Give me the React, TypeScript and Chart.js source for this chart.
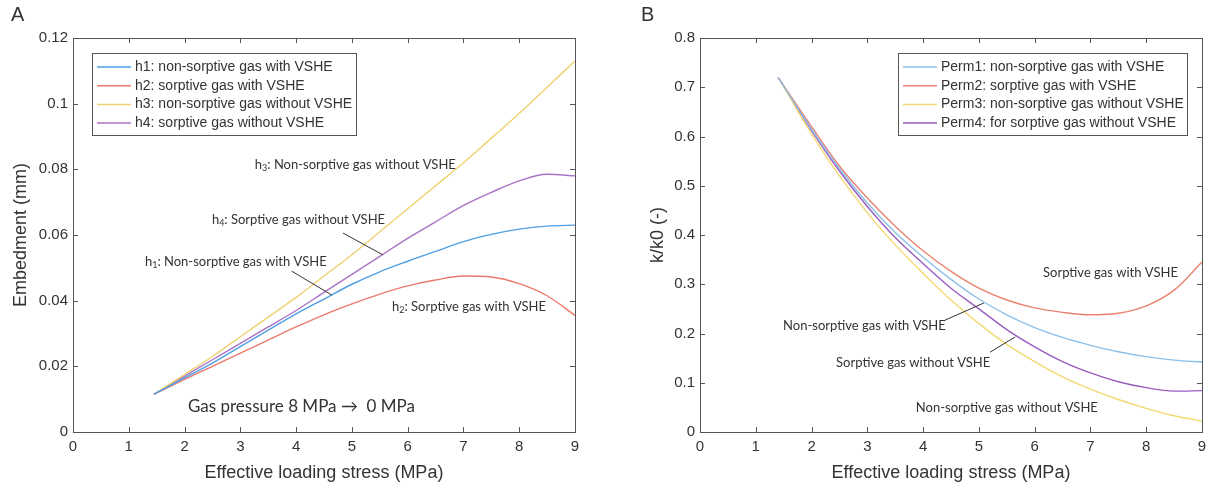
import React, { useEffect, useRef } from "react";
import { Chart, registerables } from "chart.js";

Chart.register(...registerables);

// ---------- Data ----------
const xA = [1.45, 2, 2.5, 3, 3.5, 4, 4.5, 5, 5.5, 6, 6.5, 7, 7.5, 8, 8.5, 9];
const h1 = [0.0115, 0.0165, 0.021, 0.026, 0.031, 0.036, 0.0405, 0.045, 0.0488, 0.052, 0.055, 0.058, 0.0602, 0.0618, 0.0627, 0.063];
const h2 = [0.0115, 0.016, 0.02, 0.024, 0.028, 0.032, 0.0357, 0.039, 0.042, 0.0445, 0.0463, 0.0475, 0.0472, 0.0452, 0.0415, 0.0355];
const h3 = [0.0115, 0.0175, 0.023, 0.029, 0.035, 0.041, 0.0475, 0.054, 0.061, 0.068, 0.075, 0.082, 0.0895, 0.097, 0.105, 0.113];
const h4 = [0.0115, 0.017, 0.022, 0.027, 0.032, 0.037, 0.0425, 0.048, 0.0535, 0.059, 0.064, 0.069, 0.073, 0.0765, 0.0785, 0.078];

const xB = [1.4, 2, 2.5, 3, 3.5, 4, 4.5, 5, 5.5, 6, 6.5, 7, 7.5, 8, 8.5, 9];
const perm1 = [0.72, 0.615, 0.535, 0.465, 0.405, 0.355, 0.31, 0.27, 0.238, 0.212, 0.192, 0.176, 0.163, 0.153, 0.146, 0.142];
const perm2 = [0.72, 0.62, 0.54, 0.475, 0.418, 0.368, 0.326, 0.292, 0.268, 0.252, 0.243, 0.238, 0.241, 0.256, 0.288, 0.345];
const perm3 = [0.72, 0.605, 0.52, 0.445, 0.38, 0.322, 0.268, 0.22, 0.178, 0.143, 0.112, 0.087, 0.066, 0.048, 0.033, 0.022];
const perm4 = [0.72, 0.612, 0.53, 0.458, 0.395, 0.342, 0.292, 0.25, 0.208, 0.173, 0.143, 0.12, 0.102, 0.09, 0.083, 0.084];

const labelsA = [
  "h1: non-sorptive gas with VSHE",
  "h2: sorptive gas with VSHE",
  "h3: non-sorptive gas without VSHE",
  "h4: sorptive gas without VSHE",
];
const labelsB = [
  "Perm1: non-sorptive gas with VSHE",
  "Perm2: sorptive gas with VSHE",
  "Perm3: non-sorptive gas without VSHE",
  "Perm4: for sorptive gas without VSHE",
];
const colorsA = ["#4f9fe3", "#ea7a6c", "#efd070", "#aa72c6"];
const colorsB = ["#8cc0ea", "#e8836f", "#f3d970", "#9a5cc0"];

const xTicks = [0, 1, 2, 3, 4, 5, 6, 7, 8, 9];
const yTicksA = [0, 0.02, 0.04, 0.06, 0.08, 0.1, 0.12];
const yTicksB = [0, 0.1, 0.2, 0.3, 0.4, 0.5, 0.6, 0.7, 0.8];

type Note = { x: number; y: number; main: string; sub?: string; rest?: string; size?: number };
type Leader = { x1: number; y1: number; x2: number; y2: number };

const notesA: Note[] = [
  { x: 3.26, y: 0.0813, main: "h", sub: "3", rest: ": Non-sorptive gas without VSHE" },
  { x: 2.49, y: 0.0646, main: "h", sub: "4", rest: ": Sorptive gas without VSHE" },
  { x: 1.29, y: 0.0518, main: "h", sub: "1", rest: ": Non-sorptive gas with VSHE" },
  { x: 5.72, y: 0.038, main: "h", sub: "2", rest: ": Sorptive gas with VSHE" },
  { x: 2.06, y: 0.0079, main: "Gas pressure 8 MPa \u2192  0 MPa", size: 17 },
];
const leadersA: Leader[] = [
  { x1: 4.84, y1: 0.0606, x2: 5.56, y2: 0.0539 },
  { x1: 3.92, y1: 0.049, x2: 4.64, y2: 0.0417 },
];
const notesB: Note[] = [
  { x: 6.15, y: 0.323, main: "Sorptive gas with VSHE" },
  { x: 1.49, y: 0.215, main: "Non-sorptive gas with VSHE" },
  { x: 2.44, y: 0.14, main: "Sorptive gas without VSHE" },
  { x: 3.87, y: 0.049, main: "Non-sorptive gas without VSHE" },
];
const leadersB: Leader[] = [
  { x1: 4.39, y1: 0.227, x2: 5.09, y2: 0.262 },
  { x1: 5.2, y1: 0.162, x2: 5.65, y2: 0.193 },
];

const SANS = "'Liberation Sans', Arial, sans-serif";
const NOTE_FONT = "Lato, 'Open Sans', sans-serif";

function makePlugin(labels: string[], colors: string[], legendBox: { dx: number; dy: number; w: number; h: number }, notes: Note[], leaders: Leader[], yTicks: number[]) {
  return {
    id: "decor",
    afterDraw(chart: any) {
      const { ctx, chartArea: a, scales } = chart;
      const xs = scales.x;
      const ys = scales.y;
      ctx.save();
      ctx.strokeStyle = "#555";
      ctx.lineWidth = 1;
      ctx.strokeRect(a.left + 0.5, a.top + 0.5, a.right - a.left, a.bottom - a.top);
      ctx.beginPath();
      xTicks.forEach((v) => {
        const px = Math.round(xs.getPixelForValue(v)) + 0.5;
        ctx.moveTo(px, a.bottom);
        ctx.lineTo(px, a.bottom - 5);
        ctx.moveTo(px, a.top);
        ctx.lineTo(px, a.top + 5);
      });
      yTicks.forEach((v) => {
        const py = Math.round(ys.getPixelForValue(v)) + 0.5;
        ctx.moveTo(a.left, py);
        ctx.lineTo(a.left + 5, py);
        ctx.moveTo(a.right, py);
        ctx.lineTo(a.right - 5, py);
      });
      ctx.stroke();

      ctx.strokeStyle = "#333";
      ctx.beginPath();
      leaders.forEach((l) => {
        ctx.moveTo(xs.getPixelForValue(l.x1), ys.getPixelForValue(l.y1));
        ctx.lineTo(xs.getPixelForValue(l.x2), ys.getPixelForValue(l.y2));
      });
      ctx.stroke();

      ctx.fillStyle = "#333";
      ctx.textBaseline = "middle";
      ctx.textAlign = "left";
      notes.forEach((n) => {
        const size = n.size || 13;
        let px = xs.getPixelForValue(n.x);
        const py = ys.getPixelForValue(n.y);
        ctx.font = `${size}px ${NOTE_FONT}`;
        ctx.fillText(n.main, px, py);
        px += ctx.measureText(n.main).width;
        if (n.sub) {
          ctx.font = `${Math.round(size * 0.7)}px ${NOTE_FONT}`;
          ctx.fillText(n.sub, px, py + 3);
          px += ctx.measureText(n.sub).width;
        }
        if (n.rest) {
          ctx.font = `${size}px ${NOTE_FONT}`;
          ctx.fillText(n.rest, px, py);
        }
      });

      const lx = a.left + legendBox.dx;
      const ly = a.top + legendBox.dy;
      ctx.fillStyle = "#fff";
      ctx.fillRect(lx, ly, legendBox.w, legendBox.h);
      ctx.strokeStyle = "#555";
      ctx.lineWidth = 1;
      ctx.strokeRect(lx + 0.5, ly + 0.5, legendBox.w, legendBox.h);
      ctx.font = `14px ${SANS}`;
      labels.forEach((lab, i) => {
        const yy = ly + 14 + i * 18.7;
        ctx.strokeStyle = colors[i];
        ctx.lineWidth = 1.5;
        ctx.beginPath();
        ctx.moveTo(lx + 5, yy);
        ctx.lineTo(lx + 39, yy);
        ctx.stroke();
        ctx.fillStyle = "#333";
        ctx.fillText(lab, lx + 43, yy);
      });
      ctx.restore();
    },
  };
}

function buildConfig(opts: {
  xs: number[];
  series: number[][];
  labels: string[];
  colors: string[];
  yMax: number;
  yTicks: number[];
  yTitle: string;
  yTitlePad: number;
  yWidth: number;
  padRight: number;
  legendBox: { dx: number; dy: number; w: number; h: number };
  notes: Note[];
  leaders: Leader[];
}) {
  const datasets = opts.series.map((s, i) => ({
    label: opts.labels[i],
    data: opts.xs.map((x, j) => ({ x, y: s[j] })),
    borderColor: opts.colors[i],
    backgroundColor: opts.colors[i],
    borderWidth: 1.4,
    pointRadius: 0,
    showLine: true,
    fill: false,
    cubicInterpolationMode: "monotone" as const,
  }));
  return {
    type: "scatter" as const,
    data: { datasets },
    options: {
      animation: false,
      responsive: false,
      maintainAspectRatio: false,
      layout: { padding: { top: 38, right: opts.padRight, left: 0, bottom: 0 } },
      plugins: { legend: { display: false }, tooltip: { enabled: false } },
      scales: {
        x: {
          type: "linear",
          min: 0,
          max: 9,
          afterFit: (s: any) => {
            s.height = 59;
          },
          afterBuildTicks: (s: any) => {
            s.ticks = xTicks.map((v) => ({ value: v }));
          },
          grid: { display: false, drawTicks: false },
          border: { display: false },
          ticks: { padding: 6, font: { size: 15, family: SANS }, color: "#333", maxRotation: 0 },
          title: { display: true, text: "Effective loading stress (MPa)", font: { size: 18, family: SANS }, color: "#333", padding: { top: 2, bottom: 7 } },
        },
        y: {
          type: "linear",
          min: 0,
          max: opts.yMax,
          afterFit: (s: any) => {
            s.width = opts.yWidth;
          },
          afterBuildTicks: (s: any) => {
            s.ticks = opts.yTicks.map((v) => ({ value: v }));
          },
          grid: { display: false, drawTicks: false },
          border: { display: false },
          ticks: {
            padding: 5,
            font: { size: 15, family: SANS },
            color: "#333",
            callback: (v: any) => String(Number(Number(v).toFixed(3))),
          },
          title: { display: true, text: opts.yTitle, font: { size: 18, family: SANS }, color: "#333", padding: { top: opts.yTitlePad, bottom: 4 } },
        },
      },
    },
    plugins: [makePlugin(opts.labels, opts.colors, opts.legendBox, opts.notes, opts.leaders, opts.yTicks)],
  };
}

export default function App() {
  const refA = useRef<HTMLCanvasElement | null>(null);
  const refB = useRef<HTMLCanvasElement | null>(null);

  useEffect(() => {
    const cA = new Chart(
      refA.current as HTMLCanvasElement,
      buildConfig({
        xs: xA,
        series: [h1, h2, h3, h4],
        labels: labelsA,
        colors: colorsA,
        yMax: 0.12,
        yTicks: yTicksA,
        yTitle: "Embedment (mm)",
        yTitlePad: 10,
        yWidth: 73,
        padRight: 32,
        legendBox: { dx: 19, dy: 15, w: 264, h: 82 },
        notes: notesA,
        leaders: leadersA,
      }) as any
    );
    const cB = new Chart(
      refB.current as HTMLCanvasElement,
      buildConfig({
        xs: xB,
        series: [perm1, perm2, perm3, perm4],
        labels: labelsB,
        colors: colorsB,
        yMax: 0.8,
        yTicks: yTicksB,
        yTitle: "k/k0 (-)",
        yTitlePad: 40,
        yWidth: 93,
        padRight: 13,
        legendBox: { dx: 198, dy: 15, w: 289, h: 82 },
        notes: notesB,
        leaders: leadersB,
      }) as any
    );
    return () => {
      cA.destroy();
      cB.destroy();
    };
  }, []);

  const letter: React.CSSProperties = {
    position: "absolute",
    fontFamily: SANS,
    fontSize: 20,
    color: "#333",
  };

  return (
    <div style={{ position: "fixed", left: 0, top: 0, width: 1215, height: 491, background: "#fff" }}>
      <canvas ref={refA} width={607} height={491} style={{ position: "absolute", left: 0, top: 0, width: 607, height: 491 }} />
      <canvas ref={refB} width={608} height={491} style={{ position: "absolute", left: 607, top: 0, width: 608, height: 491 }} />
      <div style={{ ...letter, left: 11, top: 3 }}>A</div>
      <div style={{ ...letter, left: 641, top: 3 }}>B</div>
    </div>
  );
}
